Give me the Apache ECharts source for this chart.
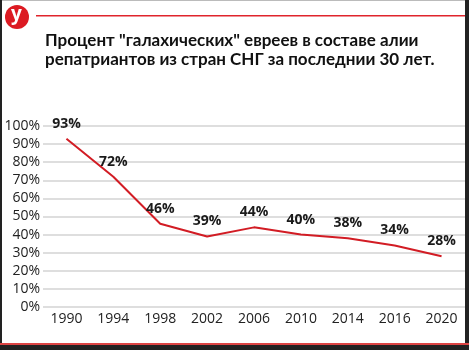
<!DOCTYPE html>
<html>
<head>
<meta charset="utf-8">
<script src="https://cdn.jsdelivr.net/npm/echarts@6/dist/echarts.min.js"></script>
<style>
html,body{margin:0;padding:0;background:#fff;}
#c{width:469px;height:350px;}
</style>
</head>
<body>
<div id="c"></div>
<script>
var titleLines = ['Процент "галахических" евреев в составе алии', 'репатриантов из стран СНГ за последнии 30 лет.'];
var years = ['1990','1994','1998','2002','2006','2010','2014','2016','2020'];
var values = [93, 72, 46, 39, 44, 40, 38, 34, 28];
var yTicks = [0, 10, 20, 30, 40, 50, 60, 70, 80, 90, 100];

var chart = echarts.init(document.getElementById('c'), null, {renderer: 'canvas'});
chart.setOption({
  animation: false,
  backgroundColor: '#fff',
  grid: {left: 43, right: 4, top: 126, bottom: 43, containLabel: false},
  xAxis: {
    type: 'category',
    data: years,
    boundaryGap: true,
    axisLine: {show: false},
    axisTick: {show: false},
    axisLabel: {color: '#222', fontSize: 14, fontFamily: 'Open Sans', margin: 5}
  },
  yAxis: {
    type: 'value',
    min: yTicks[0], max: yTicks[yTicks.length - 1], interval: 10,
    axisLine: {show: false},
    axisTick: {show: false},
    axisLabel: {color: '#222', fontSize: 14, fontFamily: 'Open Sans', margin: 3, formatter: '{value}%'},
    splitLine: {lineStyle: {color: '#dedede', width: 2}}
  },
  series: [{
    type: 'line',
    data: values,
    symbol: 'circle',
    symbolSize: 0,
    showSymbol: true,
    itemStyle: {color: '#d21c24'},
    lineStyle: {color: '#d21c24', width: 2},
    label: {
      show: true, position: 'top', distance: 8,
      formatter: '{c}%', color: '#1a1a1a', fontSize: 14, fontWeight: 'bold', fontFamily: 'Open Sans'
    }
  }],
  graphic: [
    {type: 'rect', shape: {x: 0, y: 0, width: 469, height: 1}, style: {fill: '#bbb'}},
    {type: 'rect', shape: {x: 0, y: 0, width: 2, height: 350}, style: {fill: '#222'}},
    {type: 'rect', shape: {x: 465, y: 0, width: 4, height: 350}, style: {fill: '#222'}},
    {type: 'rect', shape: {x: 0, y: 343, width: 469, height: 2}, style: {fill: '#d44'}},
    {type: 'rect', shape: {x: 0, y: 345, width: 469, height: 5}, style: {fill: '#222'}},
    {type: 'rect', shape: {x: 36, y: 15, width: 429, height: 1.5}, style: {fill: '#e0242c'}},
    {type: 'circle', shape: {cx: 17, cy: 17, r: 12}, style: {fill: '#dc1a22'}},
    {type: 'text', left: 11, top: 5, style: {text: 'у', fill: '#fff', font: 'bold 19px "Open Sans"'}},
    {type: 'text', left: 45, top: 31, style: {text: titleLines.join('\n'), fill: '#111', font: 'bold 17px "Lato"', lineHeight: 19}}
  ]
});
</script>
</body>
</html>
